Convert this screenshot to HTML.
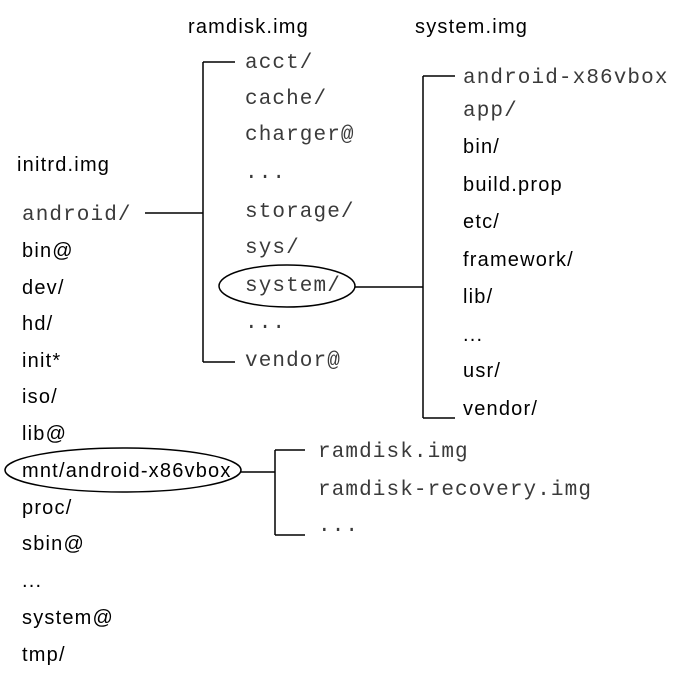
<!DOCTYPE html>
<html><head><meta charset="utf-8"><style>
html,body{margin:0;padding:0;background:#fff}
svg{display:block}
.s{font-family:"Liberation Sans",sans-serif;font-size:20px;letter-spacing:1.2px;fill:#000}
.m{font-family:"Liberation Mono",monospace;font-size:21px;letter-spacing:1.1px;fill:#3a3a3a}
line,ellipse{stroke:#000;stroke-width:1.5;fill:none}
</style></head><body>
<svg width="680" height="684" viewBox="0 0 680 684">
<text class="s" x="188" y="33">ramdisk.img</text>
<text class="s" x="415" y="33">system.img</text>
<text class="s" x="17" y="171">initrd.img</text>

<text class="m" x="22" y="220">android/</text>
<text class="s" x="22" y="257">bin@</text>
<text class="s" x="22" y="294">dev/</text>
<text class="s" x="22" y="330">hd/</text>
<text class="s" x="22" y="367">init*</text>
<text class="s" x="22" y="403">iso/</text>
<text class="s" x="22" y="440">lib@</text>
<text class="s" x="22" y="477">mnt/android-x86vbox</text>
<text class="s" x="22" y="514">proc/</text>
<text class="s" x="22" y="550">sbin@</text>
<text class="s" x="22" y="587">...</text>
<text class="s" x="22" y="624">system@</text>
<text class="s" x="22" y="661">tmp/</text>

<text class="m" x="245" y="68">acct/</text>
<text class="m" x="245" y="104">cache/</text>
<text class="m" x="245" y="140">charger@</text>
<text class="m" x="245" y="178">...</text>
<text class="m" x="245" y="217">storage/</text>
<text class="m" x="245" y="253">sys/</text>
<text class="m" x="245" y="291">system/</text>
<text class="m" x="245" y="328">...</text>
<text class="m" x="245" y="366">vendor@</text>

<text class="m" x="463" y="83">android-x86vbox</text>
<text class="m" x="463" y="116">app/</text>
<text class="s" x="463" y="153">bin/</text>
<text class="s" x="463" y="191">build.prop</text>
<text class="s" x="463" y="228">etc/</text>
<text class="s" x="463" y="266">framework/</text>
<text class="s" x="463" y="303">lib/</text>
<text class="s" x="463" y="341">...</text>
<text class="s" x="463" y="377">usr/</text>
<text class="s" x="463" y="415">vendor/</text>

<text class="m" x="318" y="457">ramdisk.img</text>
<text class="m" x="318" y="495">ramdisk-recovery.img</text>
<text class="m" x="318" y="531">...</text>

<line x1="145" y1="213" x2="203" y2="213"/>
<line x1="203" y1="62" x2="203" y2="362"/>
<line x1="203" y1="62" x2="235" y2="62"/>
<line x1="203" y1="362" x2="235" y2="362"/>
<ellipse cx="287" cy="286" rx="68" ry="21"/>
<line x1="355" y1="287" x2="423" y2="287"/>
<line x1="423" y1="76" x2="423" y2="418"/>
<line x1="423" y1="76" x2="455" y2="76"/>
<line x1="423" y1="418" x2="455" y2="418"/>
<ellipse cx="123" cy="470" rx="118" ry="22"/>
<line x1="241" y1="472" x2="275" y2="472"/>
<line x1="275" y1="450" x2="275" y2="535"/>
<line x1="275" y1="450" x2="305" y2="450"/>
<line x1="275" y1="535" x2="305" y2="535"/>
</svg>
</body></html>
